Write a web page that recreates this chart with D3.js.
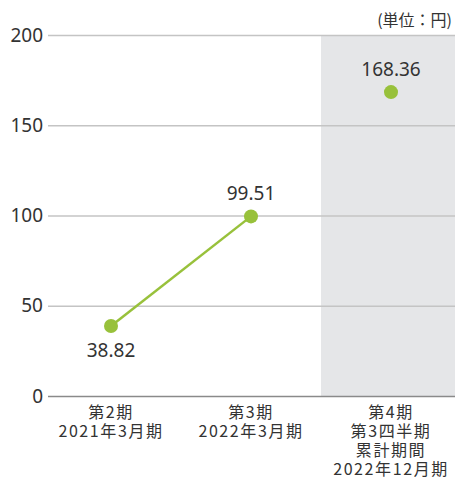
<!DOCTYPE html>
<html>
<head>
<meta charset="utf-8">
<script src="https://cdn.jsdelivr.net/npm/d3@7"></script>
<style>
	body { margin: 0; background: #fff; }
	svg { display: block; font-family: "Noto Sans CJK JP", "Noto Sans", sans-serif; }
</style>
</head>
<body>
<div id="chart"></div>
<script>
// data
const periods = ['p2', 'p3', 'p4']
const periodLabels = [
	['第2期', '2021年3月期'],
	['第3期', '2022年3月期'],
	['第4期', '第3四半期', '累計期間', '2022年12月期'],
]
const eps = [38.82, 99.51, 168.36]
const labelPos = ['below', 'above', 'above']
const yTicks = [0, 50, 100, 150, 200]
const unitText = '(単位：円)'

const width = 455
const height = 477

const svg = d3.select('#chart')
	.append('svg')
	.attr('width', width)
	.attr('height', height)

const x = d3.scaleBand()
	.domain(periods)
	.range([41, 461])

const y = d3.scaleLinear()
	.domain([0, 200])
	.range([396, 35])

// shaded quarter column
svg.append('rect')
	.attr('x', x('p4'))
	.attr('y', y(200))
	.attr('width', width - x('p4'))
	.attr('height', y(0) - y(200))
	.attr('fill', '#e5e6e8')

// grid + y labels
const yAxis = d3.axisLeft(y)
	.tickValues(yTicks)
	.tickSize(-(width - 48))
	.tickPadding(5)

svg.append('g')
	.attr('transform', 'translate(48,0)')
	.call(yAxis)
	.call(g => g.select('.domain').remove())
	.call(g => g.selectAll('.tick line')
		.attr('stroke', d => d === 0 ? '#8a8a8a' : '#c4c4c4')
		.attr('stroke-width', 1.5))
	.call(g => g.selectAll('.tick text')
		.attr('fill', '#333')
		.attr('font-size', 19)
		.attr('font-family', '"Noto Sans", sans-serif'))

svg.append('text')
	.attr('x', 452)
	.attr('y', 26)
	.attr('text-anchor', 'end')
	.attr('font-size', 16)
	.attr('fill', '#333')
	.text(unitText)

// x labels
const xLab = svg.append('g')
	.selectAll('text')
	.data(periods)
	.join('text')
	.attr('text-anchor', 'middle')
	.attr('font-size', 16)
	.attr('letter-spacing', 1.6)
	.attr('fill', '#333')
	.attr('transform', d => `translate(${x(d) + x.bandwidth() / 2},418)`)

xLab.selectAll('tspan')
	.data((d, i) => periodLabels[i])
	.join('tspan')
	.attr('x', 0)
	.attr('dy', (d, i) => i === 0 ? 0 : 19)
	.text(d => d)

const cx = i => x(periods[i]) + x.bandwidth() / 2

// line connects only the full-year periods
const line = d3.line()
	.x((d, i) => cx(i))
	.y(d => y(d))

svg.append('path')
	.datum(eps.slice(0, 2))
	.attr('fill', 'none')
	.attr('stroke', '#98c13b')
	.attr('stroke-width', 2.5)
	.attr('d', line)

svg.append('g')
	.selectAll('circle')
	.data(eps)
	.join('circle')
	.attr('cx', (d, i) => cx(i))
	.attr('cy', d => y(d))
	.attr('r', 7)
	.attr('fill', '#98c13b')

svg.append('g')
	.selectAll('text')
	.data(eps)
	.join('text')
	.attr('x', (d, i) => cx(i))
	.attr('y', (d, i) => labelPos[i] === 'below' ? y(d) + 31 : y(d) - 16)
	.attr('text-anchor', 'middle')
	.attr('font-size', 19)
	.attr('font-family', '"Noto Sans", sans-serif')
	.attr('fill', '#333')
	.text(d => d.toFixed(2))
</script>
</body>
</html>
